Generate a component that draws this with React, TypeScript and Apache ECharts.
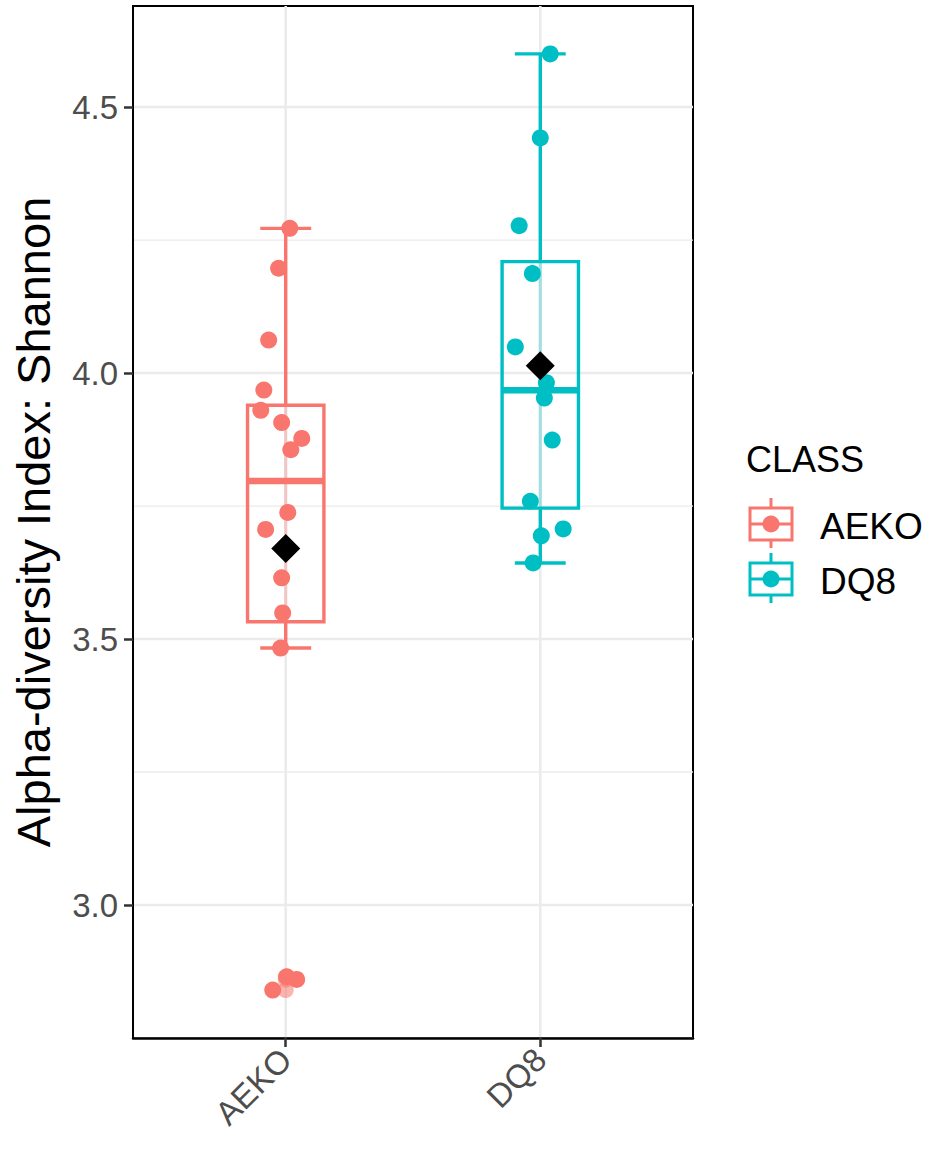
import React, { useEffect, useRef } from "react";
import * as echarts from "echarts";

const categories = ["AEKO", "DQ8"];
const groupColors = ["#F8766D", "#00BFC4"];
const aekoValues = [4.272, 4.197, 4.062, 3.968, 3.93, 3.907, 3.877, 3.856, 3.738, 3.706, 3.615, 3.549, 3.483, 2.84, 2.865, 2.86];
const aekoJitter = [0.016, -0.028, -0.067, -0.086, -0.098, -0.016, 0.063, 0.02, 0.008, -0.079, -0.016, -0.012, -0.02, -0.051, 0.004, 0.043];
const dq8Values = [4.6, 4.442, 4.277, 4.187, 4.049, 3.982, 3.953, 3.874, 3.759, 3.707, 3.694, 3.643];
const dq8Jitter = [0.039, 0.0, -0.083, -0.031, -0.098, 0.024, 0.016, 0.047, -0.039, 0.09, 0.004, -0.028];
const yTicks = [3.0, 3.5, 4.0, 4.5];
const yMinorTicks = [2.75, 3.25, 3.75, 4.25];
const yMin = 2.75;
const yMax = 4.69;
const yTitle = "Alpha-diversity Index: Shannon";
const legendTitle = "CLASS";

const FONT = "'Liberation Sans', Arial, Helvetica, sans-serif";

function quantile(sorted: number[], p: number) {
  const h = (sorted.length - 1) * p;
  const lo = Math.floor(h);
  const hi = Math.ceil(h);
  return sorted[lo] + (h - lo) * (sorted[hi] - sorted[lo]);
}

function boxStats(vals: number[]) {
  const s = [...vals].sort((a, b) => a - b);
  const q1 = quantile(s, 0.25);
  const med = quantile(s, 0.5);
  const q3 = quantile(s, 0.75);
  const iqr = q3 - q1;
  const lo = s.filter((v) => v >= q1 - 1.5 * iqr)[0];
  const hiArr = s.filter((v) => v <= q3 + 1.5 * iqr);
  const hi = hiArr[hiArr.length - 1];
  const outliers = s.filter((v) => v < lo || v > hi);
  const mean = vals.reduce((a, b) => a + b, 0) / vals.length;
  return { q1, med, q3, lo, hi, outliers, mean };
}

export default function App() {
  const ref = useRef<HTMLDivElement>(null);
  useEffect(() => {
    if (!ref.current) return;
    const chart = echarts.init(ref.current, null, { renderer: "svg" });
    const groups = [
      { values: aekoValues, jitter: aekoJitter },
      { values: dq8Values, jitter: dq8Jitter },
    ];
    const stats = groups.map((g) => boxStats(g.values));
    const boxData = stats.map((s, i) => [i + 1, s.q1, s.med, s.q3, s.lo, s.hi]);
    const outlierData: number[][] = [];
    stats.forEach((s, i) => s.outliers.forEach((v) => outlierData.push([i + 1, v, i])));
    const meanData = stats.map((s, i) => [i + 1, s.mean]);

    const hGridData = [
      ...yTicks.map((v) => [1.5, v, 2.6]),
      ...yMinorTicks.map((v) => [1.5, v, 1.3]),
    ];
    const vGridData = categories.map((_, i) => [i + 1, 3.7]);

    const series: any[] = [
      {
        type: "custom",
        silent: true,
        z: 0,
        data: hGridData,
        encode: { x: 0, y: 1 },
        renderItem: (params: any, api: any) => {
          const cs = params.coordSys;
          const y = api.coord([1.5, api.value(1)])[1];
          return {
            type: "line",
            shape: { x1: cs.x, y1: y, x2: cs.x + cs.width, y2: y },
            style: { stroke: "#EBEBEB", lineWidth: api.value(2) },
          };
        },
      },
      {
        type: "custom",
        silent: true,
        z: 0,
        data: vGridData,
        encode: { x: 0, y: 1 },
        renderItem: (params: any, api: any) => {
          const cs = params.coordSys;
          const x = api.coord([api.value(0), 3.7])[0];
          return {
            type: "line",
            shape: { x1: x, y1: cs.y, x2: x, y2: cs.y + cs.height },
            style: { stroke: "#EBEBEB", lineWidth: 2.6 },
          };
        },
      },
      {
        type: "custom",
        z: 2,
        data: boxData,
        encode: { x: 0, y: [1, 2, 3, 4, 5] },
        renderItem: (params: any, api: any) => {
          const color = groupColors[params.dataIndex];
          const x = api.value(0);
          const q1 = api.value(1);
          const med = api.value(2);
          const q3 = api.value(3);
          const lo = api.value(4);
          const hi = api.value(5);
          const c = (a: number, b: number) => api.coord([a, b]);
          const boxL = c(x - 0.15, q3);
          const boxR = c(x + 0.15, q1);
          const capL = c(x - 0.1, hi)[0];
          const capR = c(x + 0.1, hi)[0];
          const cx = c(x, med)[0];
          const yHi = c(x, hi)[1];
          const yLo = c(x, lo)[1];
          const yQ1 = c(x, q1)[1];
          const yQ3 = c(x, q3)[1];
          const yMed = c(x, med)[1];
          const lw = 3.4;
          return {
            type: "group",
            children: [
              { type: "line", shape: { x1: cx, y1: yHi, x2: cx, y2: yQ3 }, style: { stroke: color, lineWidth: lw } },
              { type: "line", shape: { x1: cx, y1: yQ1, x2: cx, y2: yLo }, style: { stroke: color, lineWidth: lw } },
              { type: "line", shape: { x1: cx, y1: yQ3, x2: cx, y2: yQ1 }, style: { stroke: color, lineWidth: lw, opacity: 0.3 } },
              { type: "line", shape: { x1: capL, y1: yHi, x2: capR, y2: yHi }, style: { stroke: color, lineWidth: lw } },
              { type: "line", shape: { x1: capL, y1: yLo, x2: capR, y2: yLo }, style: { stroke: color, lineWidth: lw } },
              {
                type: "rect",
                shape: { x: boxL[0], y: boxL[1], width: boxR[0] - boxL[0], height: boxR[1] - boxL[1] },
                style: { fill: "none", stroke: color, lineWidth: lw },
              },
              { type: "line", shape: { x1: boxL[0], y1: yMed, x2: boxR[0], y2: yMed }, style: { stroke: color, lineWidth: 6.5 } },
            ],
          };
        },
      },
      {
        type: "scatter",
        z: 3,
        symbolSize: 16,
        data: outlierData.map((d) => ({ value: [d[0], d[1]], itemStyle: { color: groupColors[d[2]], opacity: 0.55 } })),
      },
      ...groups.map((g, gi) => ({
        type: "scatter",
        name: categories[gi],
        z: 4,
        symbolSize: 17,
        itemStyle: { color: groupColors[gi], opacity: 1 },
        data: g.values.map((v, i) => [gi + 1 + g.jitter[i], v]),
      })),
      {
        type: "scatter",
        z: 5,
        symbol: "diamond",
        symbolSize: [29, 29],
        itemStyle: { color: "#000000", opacity: 1 },
        data: meanData,
      },
    ];

    const legendItems: any[] = [
      {
        type: "text",
        left: 746,
        top: 441,
        style: { text: legendTitle, font: `36px ${FONT}`, fill: "#000000" },
      },
    ];
    categories.forEach((cat, i) => {
      const cy = 524 + i * 55;
      const col = groupColors[i];
      legendItems.push(
        { type: "line", shape: { x1: 771, y1: cy - 26, x2: 771, y2: cy + 24 }, style: { stroke: col, lineWidth: 3 } },
        { type: "rect", shape: { x: 750, y: cy - 16, width: 42, height: 32 }, style: { fill: "#ffffff", stroke: col, lineWidth: 3 } },
        { type: "line", shape: { x1: 750, y1: cy, x2: 792, y2: cy }, style: { stroke: col, lineWidth: 3 } },
        { type: "circle", shape: { cx: 771, cy, r: 8.5 }, style: { fill: col } },
        {
          type: "text",
          x: 820,
          y: cy + 2,
          style: { text: cat, font: `37px ${FONT}`, fill: "#000000", verticalAlign: "middle", align: "left" },
        }
      );
    });

    chart.setOption({
      animation: false,
      backgroundColor: "#ffffff",
      grid: { left: 133, right: 236, top: 6, bottom: 111, show: true, borderColor: "#000000", borderWidth: 2, backgroundColor: "transparent" },
      xAxis: {
        type: "value",
        min: 0.4,
        max: 2.6,
        axisLine: { show: true, lineStyle: { color: "#000000", width: 2.5 } },
        axisTick: { show: true, customValues: [1, 2], length: 9, lineStyle: { color: "#333333", width: 2.5 } },
        axisLabel: {
          customValues: [1, 2],
          formatter: (v: number) => categories[Math.round(v) - 1] ?? "",
          rotate: 45,
          margin: 16,
          color: "#4D4D4D",
          fontSize: 33,
          fontFamily: FONT,
        },
        splitLine: { show: false },
      },
      yAxis: {
        type: "value",
        min: yMin,
        max: yMax,
        name: yTitle,
        nameLocation: "middle",
        nameRotate: 90,
        nameGap: 76,
        nameTextStyle: { fontSize: 47, fontFamily: FONT, color: "#000000" },
        axisLine: { show: true, lineStyle: { color: "#000000", width: 2 } },
        axisTick: { show: true, customValues: yTicks, length: 9, lineStyle: { color: "#333333", width: 2.5 } },
        axisLabel: {
          customValues: yTicks,
          formatter: (v: number) => v.toFixed(1),
          margin: 15,
          color: "#4D4D4D",
          fontSize: 33,
          fontFamily: FONT,
        },
        splitLine: { show: false },
      },
      graphic: legendItems,
      series,
    });
    return () => chart.dispose();
  }, []);
  return (
    <div style={{ position: "fixed", left: 0, top: 0, width: 929, height: 1149, background: "#fff" }}>
      <div ref={ref} style={{ width: 929, height: 1149 }} />
    </div>
  );
}
